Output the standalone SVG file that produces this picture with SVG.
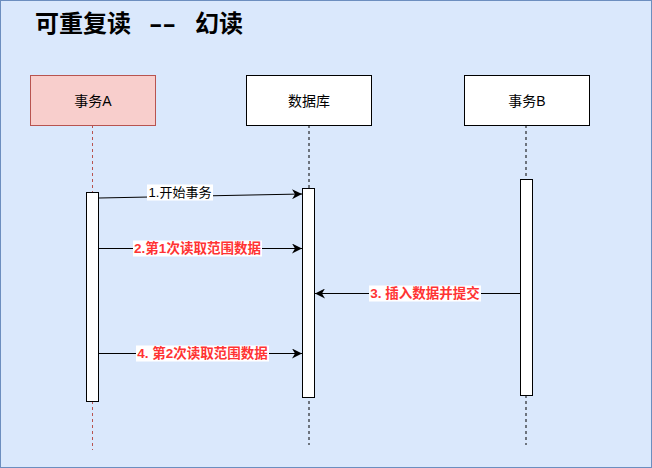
<svg xmlns="http://www.w3.org/2000/svg" width="652" height="468" viewBox="0 0 652 468">
<style>
text{font-family:"Liberation Sans","Noto Sans CJK SC",sans-serif;}
.node{font-size:14px;fill:#000;text-anchor:middle;dominant-baseline:central;}
.lbl{font-size:13px;text-anchor:middle;dominant-baseline:central;}
.red{fill:#FF3333;font-weight:bold;font-size:13.5px;}
.life{stroke-width:1;stroke-dasharray:3 3;fill:none;}
.act{fill:#fff;stroke:#000;stroke-width:1;}
.msg{stroke:#000;stroke-width:1;fill:none;marker-end:url(#arr);}
</style>
<defs>
<marker id="arr" markerWidth="12" markerHeight="10" refX="10" refY="5" orient="auto" markerUnits="userSpaceOnUse">
<path d="M0,0 L10,5 L0,10 L3,5 Z" fill="#000"/>
</marker>
</defs>
<rect x="0.5" y="0.5" width="651" height="467" fill="#dae8fc" stroke="#6c8ebf"/>
<text x="35" y="32" font-size="24" font-weight="bold" fill="#000">可重复读 <tspan x="149" textLength="27" lengthAdjust="spacingAndGlyphs">--</tspan><tspan x="195">幻读</tspan></text>

<g id="lifelines">
<line class="life" x1="92.5" y1="125" x2="92.5" y2="450" stroke="#b85450"/>
<line class="life" x1="309" y1="125" x2="309" y2="445" stroke="#000"/>
<line class="life" x1="526" y1="125" x2="526" y2="445" stroke="#000"/>
</g>

<g id="txA">
<rect x="30.5" y="75.5" width="125" height="50" fill="#f8cecc" stroke="#b85450"/>
<text class="node" x="93" y="100.5">事务A</text>
</g>
<g id="db">
<rect x="246.5" y="75.5" width="125" height="50" fill="#fff" stroke="#000"/>
<text class="node" x="309" y="100.5">数据库</text>
</g>
<g id="txB">
<rect x="464.5" y="75.5" width="125" height="50" fill="#fff" stroke="#000"/>
<text class="node" x="527" y="100.5">事务B</text>
</g>

<g id="actA"><rect class="act" x="86.5" y="192.5" width="12" height="209"/></g>
<g id="actDB"><rect class="act" x="302.5" y="188.5" width="12" height="209"/></g>
<g id="actB"><rect class="act" x="520.5" y="179.5" width="12" height="216"/></g>

<g id="connectors">
<path class="msg" d="M99,198 L302,194"/>
<rect x="147" y="184.5" width="66" height="16" fill="#fff"/>
<text class="lbl" x="180" y="192" fill="#000">1.开始事务</text>

<path class="msg" d="M99,248.5 L302,248.5"/>
<rect x="133" y="240.5" width="129" height="16" fill="#fff"/>
<text class="lbl red" x="197.5" y="248.5">2.第1次读取范围数据</text>

<path class="msg" d="M520,293.5 L315,293.5"/>
<rect x="369" y="285.5" width="112" height="16" fill="#fff"/>
<text class="lbl red" x="425" y="293.5">3. 插入数据并提交</text>

<path class="msg" d="M99,353.5 L302,353.5"/>
<rect x="136" y="345.5" width="133" height="16" fill="#fff"/>
<text class="lbl red" x="202.5" y="353.5">4. 第2次读取范围数据</text>
</g>
</svg>
